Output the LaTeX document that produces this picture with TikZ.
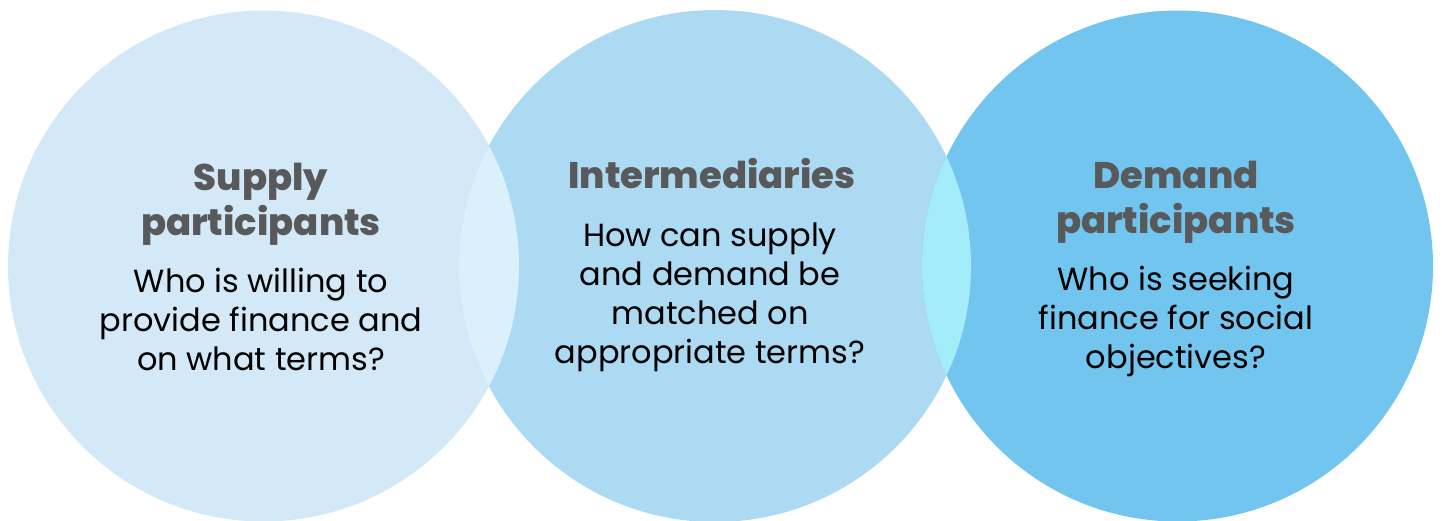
\documentclass[tikz,border=0pt]{standalone}
\usepackage{fontspec}
\setmainfont{Poppins}
\newfontfamily\headfont{Poppins ExtraBold}
\definecolor{supplyblue}{HTML}{D4E9F7}
\definecolor{midblue}{HTML}{ADDAF3}
\definecolor{demandblue}{HTML}{72C5EF}
\definecolor{lensleft}{HTML}{DAF0FB}
\definecolor{lensright}{HTML}{A3EDFB}
\definecolor{headgray}{HTML}{58595B}
\tikzset{
  headtext/.style={inner sep=0pt, anchor=base, align=center, text=headgray,
    font=\fontsize{37}{45}\headfont},
  bodytext/.style={inner sep=0pt, anchor=base, align=center, text=black,
    font=\fontsize{32}{39}\selectfont},
}
\begin{document}
\begin{tikzpicture}[x=1pt,y=-1pt]
\useasboundingbox (0,0) rectangle (1442,520);
\clip (0,0) rectangle (1442,520);
% the three circles
\fill[supplyblue] (263.5,266) circle (255.5pt);
\fill[midblue] (715,266) circle (256pt);
\fill[demandblue] (1177.5,266) circle (255.5pt);
% overlaps
\begin{scope}
  \clip (263.5,266) circle (255.5pt);
  \fill[lensleft] (715,266) circle (256pt);
\end{scope}
\begin{scope}
  \clip (715,266) circle (256pt);
  \fill[lensright] (1177.5,266) circle (255.5pt);
\end{scope}
% texts (each node sits on the baseline of its last line)
\node[headtext] (supplyhead) at (261,235) {Supply\\participants};
\node[bodytext] (supplybody) at (261,370) {Who is willing to\\provide finance and\\on what terms?};
\node[headtext] (midhead) at (712,188) {Intermediaries};
\node[bodytext] (midbody) at (710,363) {How can supply\\and demand be\\matched on\\appropriate terms?};
\node[headtext] (demandhead) at (1176,233) {Demand\\participants};
\node[bodytext] (demandbody) at (1176,368) {Who is seeking\\finance for social\\objectives?};
\end{tikzpicture}
\end{document}
